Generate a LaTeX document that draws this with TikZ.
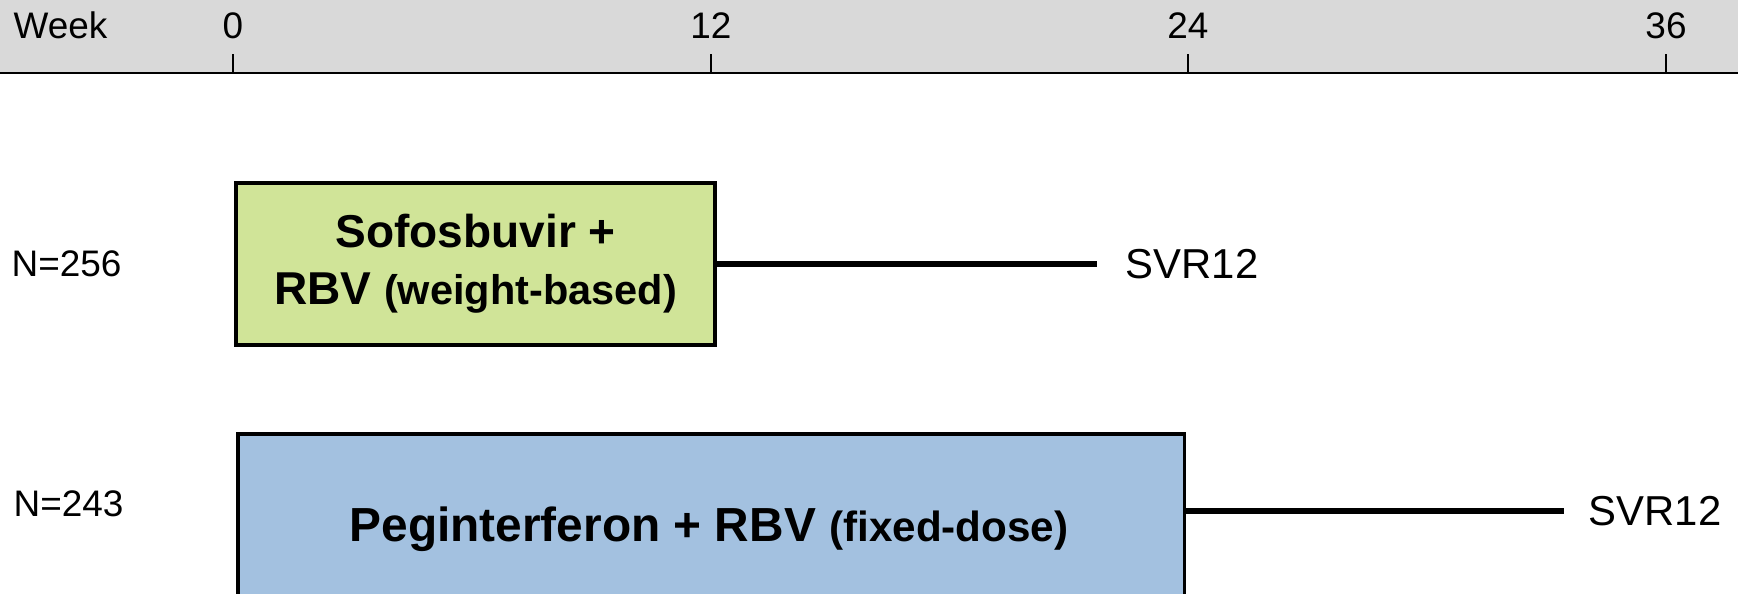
\documentclass[tikz,border=0pt]{standalone}
\usepackage{fontspec}
\setmainfont{Liberation Sans}
\definecolor{bargray}{HTML}{D9D9D9}
\definecolor{boxgreen}{HTML}{D0E498}
\definecolor{boxblue}{HTML}{A3C1E0}
\begin{document}
\begin{tikzpicture}[x=0.01cm,y=-0.01cm,
  axislbl/.style={font=\fontsize{10.5}{12}\selectfont, inner sep=0pt, anchor=base},
  sidelbl/.style={font=\fontsize{10.5}{12}\selectfont, inner sep=0pt, anchor=west},
  svrlbl/.style={font=\fontsize{11.9}{14}\selectfont, inner sep=0pt, anchor=west},
  armbox/.style={draw=black, line width=1.1pt, inner sep=0pt, align=center,
    font=\fontsize{13.1}{16.2}\selectfont\bfseries},
  conn/.style={line width=1.5pt},
  tickln/.style={line width=0.45pt}]
\clip (0,0) rectangle (1738,593);
% top bar
\fill[bargray] (0,0) rectangle (1738,73);
\draw[line width=0.6pt] (0,73) -- (1738,73);
\node[axislbl, anchor=base west] (week) at (13,38) {Week};
\foreach \t/\x in {0/233,12/711,24/1188,36/1666}{
  \coordinate (tk\t) at (\x,73);
  \draw[tickln] (tk\t) -- ++(0,-19);
  \node[axislbl] (lb\t) at (\x,38) {\t};
}
% arm 1
\node[armbox, fill=boxgreen, minimum width=4.79cm, minimum height=1.62cm] (box1) at (475.5,264)
  {Sofosbuvir +\\ RBV {\fontsize{11.8}{14}\selectfont (weight-based)}};
\coordinate (e1) at (1097,264);
\draw[conn] (box1.east) -- (e1);
\node[svrlbl] (svr1) at (1125,264) {SVR12};
\node[sidelbl] (n1) at (11,264) {N=256};
% arm 2
\node[armbox, fill=boxblue, minimum width=9.46cm, minimum height=2cm, anchor=north west] (box2) at (236,432) {};
\node[inner sep=0pt, anchor=base, font=\fontsize{13.6}{16.2}\selectfont\bfseries] (t2) at (709,541)
  {Peginterferon + RBV {\fontsize{12}{14}\selectfont (fixed-dose)}};
\coordinate (e2) at (1564,511);
\draw[conn] (e2 -| box2.east) -- (e2);
\node[svrlbl] (svr2) at (1588,511) {SVR12};
\node[sidelbl] (n2) at (13,504) {N=243};
\end{tikzpicture}
\end{document}
